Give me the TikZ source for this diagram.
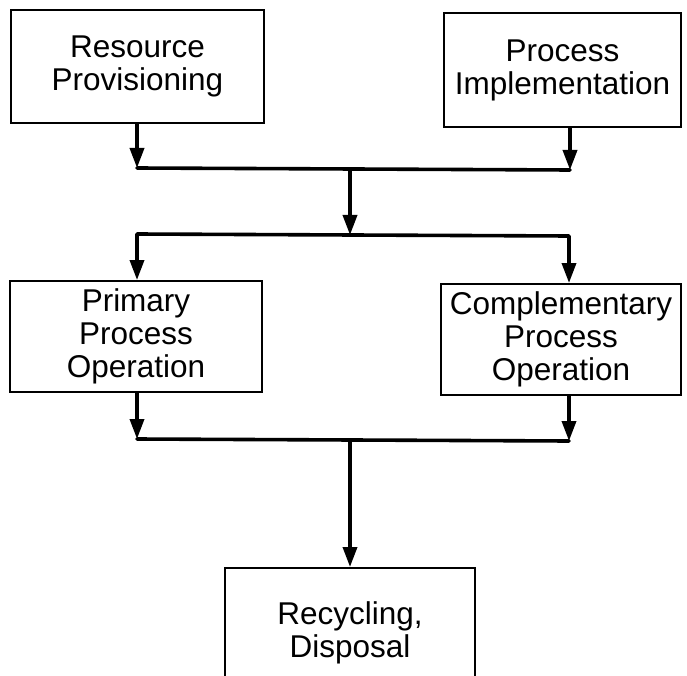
\documentclass[tikz,border=0pt]{standalone}
\usepackage{fontspec}
\setmainfont{Liberation Sans}
\usetikzlibrary{arrows.meta}
\begin{document}
\begin{tikzpicture}[x = 1pt, y = 1pt, align = center,
                    font = \fontsize{31.5}{33}\selectfont,
                    box/.style = {draw, line width = 2pt, inner sep = 0pt},
                    flow/.style = {line width = 3.6pt, -{Triangle[length = 20pt, width = 14pt]}},
                    bus/.style = {line width = 3.6pt, line cap = round}]
                    \useasboundingbox (0, 0) rectangle (687, -676);

                    \node[box, minimum width = 253, minimum height = 113] (Resource) at (137.5, -66.5) {Resource\\Provisioning};
                    \node[box, minimum width = 237, minimum height = 114] (Implementation) at (562.5, -70) {Process\\Implementation};
                    \node[box, minimum width = 252, minimum height = 111] (Primary) at (136, -336.5) {Primary\\Process\\Operation};
                    \node[box, minimum width = 240, minimum height = 111] (Complementary) at (561, -339.5) {Complementary\\Process\\Operation};
                    \node[box, minimum width = 250, minimum height = 130] (Recycling) at (350, -633) {Recycling,\\Disposal};

                    % junction points
                    \coordinate (J1L) at (137, -168);
                    \coordinate (J1M) at (350, -169);
                    \coordinate (J1R) at (570, -170);
                    \coordinate (J2L) at (137, -234);
                    \coordinate (J2M) at (350, -235);
                    \coordinate (J2R) at (569, -236);
                    \coordinate (J3L) at (137, -439);
                    \coordinate (J3M) at (350, -440);
                    \coordinate (J3R) at (569, -441);

                    \draw[flow] (Resource.south -| J1L) -- (J1L);
                    \draw[flow] (Implementation.south -| J1R) -- (J1R);
                    \draw[bus] (J1L) -- (J1R);
                    \draw[flow] (J1M) -- (J2M);
                    \draw[bus] (J2L) -- (J2R);
                    \draw[flow] (J2L) -- (Primary.north -| J2L);
                    \draw[flow] (J2R) -- (Complementary.north -| J2R);
                    \draw[flow] (Primary.south -| J3L) -- (J3L);
                    \draw[flow] (Complementary.south -| J3R) -- (J3R);
                    \draw[bus] (J3L) -- (J3R);
                    \draw[flow] (J3M) -- (Recycling.north);
                \end{tikzpicture}
\end{document}
